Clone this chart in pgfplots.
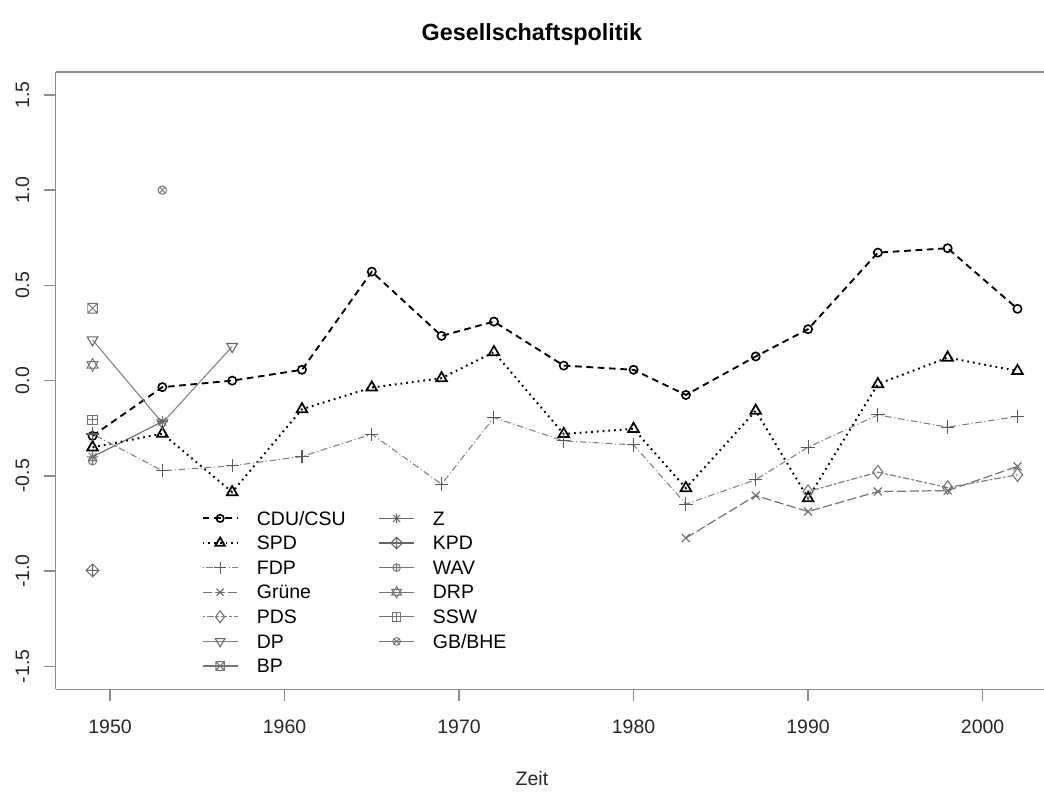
\documentclass[border=0pt]{standalone}
\usepackage{fontspec}
\setmainfont{Liberation Sans}
\usepackage{pgfplots}
\pgfplotsset{compat=1.18}
\usetikzlibrary{plotmarks}
\newcommand\fs{\fontsize{14.6}{17}\selectfont}
\newcommand\fst{\fontsize{17.5}{21}\selectfont\bfseries}

\pgfdeclareplotmark{boxx}{%
  \pgfpathrectangle{\pgfpoint{-\pgfplotmarksize}{-\pgfplotmarksize}}{\pgfpoint{2\pgfplotmarksize}{2\pgfplotmarksize}}%
  \pgfpathmoveto{\pgfpoint{-\pgfplotmarksize}{-\pgfplotmarksize}}\pgfpathlineto{\pgfpoint{\pgfplotmarksize}{\pgfplotmarksize}}%
  \pgfpathmoveto{\pgfpoint{-\pgfplotmarksize}{\pgfplotmarksize}}\pgfpathlineto{\pgfpoint{\pgfplotmarksize}{-\pgfplotmarksize}}%
  \pgfusepathqstroke}
\pgfdeclareplotmark{boxplus}{%
  \pgfpathrectangle{\pgfpoint{-\pgfplotmarksize}{-\pgfplotmarksize}}{\pgfpoint{2\pgfplotmarksize}{2\pgfplotmarksize}}%
  \pgfpathmoveto{\pgfpoint{-\pgfplotmarksize}{0pt}}\pgfpathlineto{\pgfpoint{\pgfplotmarksize}{0pt}}%
  \pgfpathmoveto{\pgfpoint{0pt}{\pgfplotmarksize}}\pgfpathlineto{\pgfpoint{0pt}{-\pgfplotmarksize}}%
  \pgfusepathqstroke}
\pgfdeclareplotmark{diamondplus}{%
  \pgfpathmoveto{\pgfpoint{0pt}{\pgfplotmarksize}}\pgfpathlineto{\pgfpoint{\pgfplotmarksize}{0pt}}%
  \pgfpathlineto{\pgfpoint{0pt}{-\pgfplotmarksize}}\pgfpathlineto{\pgfpoint{-\pgfplotmarksize}{0pt}}\pgfpathclose
  \pgfpathmoveto{\pgfpoint{-\pgfplotmarksize}{0pt}}\pgfpathlineto{\pgfpoint{\pgfplotmarksize}{0pt}}%
  \pgfpathmoveto{\pgfpoint{0pt}{\pgfplotmarksize}}\pgfpathlineto{\pgfpoint{0pt}{-\pgfplotmarksize}}%
  \pgfusepathqstroke}
\pgfdeclareplotmark{star8}{%
  \pgfpathmoveto{\pgfpoint{-\pgfplotmarksize}{0pt}}\pgfpathlineto{\pgfpoint{\pgfplotmarksize}{0pt}}%
  \pgfpathmoveto{\pgfpoint{0pt}{\pgfplotmarksize}}\pgfpathlineto{\pgfpoint{0pt}{-\pgfplotmarksize}}%
  \pgfpathmoveto{\pgfpointpolar{45}{\pgfplotmarksize}}\pgfpathlineto{\pgfpointpolar{225}{\pgfplotmarksize}}%
  \pgfpathmoveto{\pgfpointpolar{135}{\pgfplotmarksize}}\pgfpathlineto{\pgfpointpolar{315}{\pgfplotmarksize}}%
  \pgfusepathqstroke}
\pgfdeclareplotmark{david}{%
  \pgfpathmoveto{\pgfpointpolar{90}{\pgfplotmarksize}}\pgfpathlineto{\pgfpointpolar{210}{\pgfplotmarksize}}%
  \pgfpathlineto{\pgfpointpolar{330}{\pgfplotmarksize}}\pgfpathclose
  \pgfpathmoveto{\pgfpointpolar{270}{\pgfplotmarksize}}\pgfpathlineto{\pgfpointpolar{30}{\pgfplotmarksize}}%
  \pgfpathlineto{\pgfpointpolar{150}{\pgfplotmarksize}}\pgfpathclose
  \pgfusepathqstroke}

\begin{document}
\begin{tikzpicture}
\begin{axis}[name=ax, scale only axis, width=741.225pt, height=462.975pt,
  xmin=1946.888, xmax=2003.52, ymin=-1.62, ymax=1.62,
  axis x line*=bottom, axis y line*=left,
  axis line style={-, black!45, line width=1.1pt},
  every outer x axis line/.append style={-},
  every outer y axis line/.append style={-},
  xtick={1950,1960,1970,1980,1990,2000},
  xticklabels={1950,1960,1970,1980,1990,2000},
  ytick={-1.5,-1,-0.5,0,0.5,1,1.5},
  yticklabels={-1.5,-1.0,-0.5,0.0,0.5,1.0,1.5},
  tick align=outside, major tick length=9pt,
  tick style={black!45, line width=1.1pt},
  xticklabel style={font=\fs, text=black!85, anchor=base, inner sep=0pt},
  yticklabel style={font=\fs, text=black!85, rotate=90, anchor=base, inner sep=0pt},
  xticklabel shift=24pt, yticklabel shift=11pt,
  title={Gesellschaftspolitik},
  title style={font=\fst, at={(rel axis cs:0.4819,1)}, anchor=base, inner sep=0pt, yshift=17.7pt},
  xlabel={Zeit},
  xlabel style={font=\fs, text=black!85, at={(rel axis cs:0.4819,0)}, anchor=base, inner sep=0pt, yshift=-71.8pt},
  legend columns=2,
  legend image code/.code={\draw[mark repeat=2, mark phase=2, yshift=5pt] plot coordinates {(0pt,0pt) (13.125pt,0pt) (26.25pt,0pt)};},
  legend image post style={/tikz/every mark/.append style={scale=0.9}},
  legend style={draw=none, fill=none, at={(axis cs:1955.25,-0.681)}, anchor=north west,
    inner sep=0pt, outer sep=0pt, font=\fs, row sep=2.45pt,
    nodes={inner sep=0pt, text height=11pt, text depth=5pt, anchor=base west},
    /tikz/every odd column/.append style={column sep=13.7pt},
    /tikz/every even column/.append style={column sep=24.75pt}},
]
% CDU/CSU
\addplot[black, line width=1.4pt, dash pattern=on 5pt off 3.5pt, mark=o, mark size=3.1pt, mark options={solid, line width=1.2pt}]
 coordinates {(1949,-0.29) (1953,-0.034) (1957,0.0) (1961,0.057) (1965,0.572) (1969,0.235) (1972,0.31) (1976,0.079) (1980,0.057) (1983,-0.075) (1987,0.127) (1990,0.27) (1994,0.672) (1998,0.695) (2002,0.377)};
\addlegendentry{CDU/CSU}
% Z
\addplot[black!60, line width=0.8pt, mark=star8, mark size=4.2pt, mark options={solid, line width=0.7pt}]
 coordinates {(1949,-0.40) (1953,-0.215)};
\addlegendentry{Z}
% SPD
\addplot[black, line width=1.5pt, dash pattern=on 1.3pt off 3pt, mark=triangle, mark size=4.6pt, mark options={solid, line width=1.3pt}]
 coordinates {(1949,-0.35) (1953,-0.278) (1957,-0.585) (1961,-0.15) (1965,-0.036) (1969,0.013) (1972,0.15) (1976,-0.28) (1980,-0.253) (1983,-0.564) (1987,-0.158) (1990,-0.617) (1994,-0.018) (1998,0.121) (2002,0.051)};
\addlegendentry{SPD}
% KPD
\addplot[black!60, line width=0.8pt, mark=diamondplus, mark size=4.8pt, mark options={solid, line width=0.7pt}]
 coordinates {(1949,-0.996)};
\addlegendentry{KPD}
% FDP
\addplot[black!50, line width=0.8pt, dash pattern=on 0.8pt off 2pt on 5pt off 2pt, mark=+, mark size=5pt, mark options={solid, black!65, line width=0.8pt}]
 coordinates {(1949,-0.28) (1953,-0.473) (1957,-0.447) (1961,-0.398) (1965,-0.281) (1969,-0.543) (1972,-0.194) (1976,-0.316) (1980,-0.337) (1983,-0.648) (1987,-0.52) (1990,-0.349) (1994,-0.18) (1998,-0.244) (2002,-0.188)};
\addlegendentry{FDP}
% WAV
\addplot[black!55, line width=0.8pt, mark=oplus, mark size=3.2pt, mark options={solid, line width=0.7pt}]
 coordinates {(1949,-0.42)};
\addlegendentry{WAV}
% Gruene
\addplot[black!55, line width=0.9pt, dash pattern=on 7pt off 2.5pt, mark=x, mark size=4.2pt, mark options={solid, black!60, line width=0.8pt}]
 coordinates {(1983,-0.826) (1987,-0.603) (1990,-0.687) (1994,-0.582) (1998,-0.577) (2002,-0.45)};
\addlegendentry{Grüne}
% DRP
\addplot[black!55, line width=0.8pt, mark=david, mark size=4.8pt, mark options={solid, line width=0.7pt}]
 coordinates {(1949,0.083)};
\addlegendentry{DRP}
% PDS
\addplot[black!50, line width=0.9pt, dash pattern=on 2pt off 1.5pt on 5pt off 1.5pt, mark=diamond, mark size=5pt, mark options={solid, black!55, line width=0.8pt}]
 coordinates {(1990,-0.582) (1994,-0.48) (1998,-0.561) (2002,-0.494)};
\addlegendentry{PDS}
% SSW
\addplot[black!55, line width=0.8pt, mark=boxplus, mark size=3.6pt, mark options={solid, line width=0.7pt}]
 coordinates {(1949,-0.206)};
\addlegendentry{SSW}
% DP
\addplot[black!50, line width=0.8pt, mark=triangle, mark size=4.6pt, mark options={solid, rotate=180, black!60, line width=0.8pt}]
 coordinates {(1949,0.214) (1953,-0.222) (1957,0.179)};
\addlegendentry{DP}
% GB/BHE
\addplot[black!55, line width=0.8pt, mark=otimes, mark size=3.2pt, mark options={solid, line width=0.7pt}]
 coordinates {(1953,1.0)};
\addlegendentry{GB/BHE}
% BP
\addplot[black!55, line width=0.8pt, mark=boxx, mark size=3.6pt, mark options={solid, line width=0.7pt}]
 coordinates {(1949,0.38)};
\addlegendentry{BP}
\draw[black!45, line width=1.1pt] (rel axis cs:0,1) -- (rel axis cs:1,1);
\end{axis}
\pgfresetboundingbox
\useasboundingbox ([xshift=-41.775pt, yshift=-76.275pt]ax.south west) rectangle ([yshift=54pt]ax.north east);
\end{tikzpicture}
\end{document}
